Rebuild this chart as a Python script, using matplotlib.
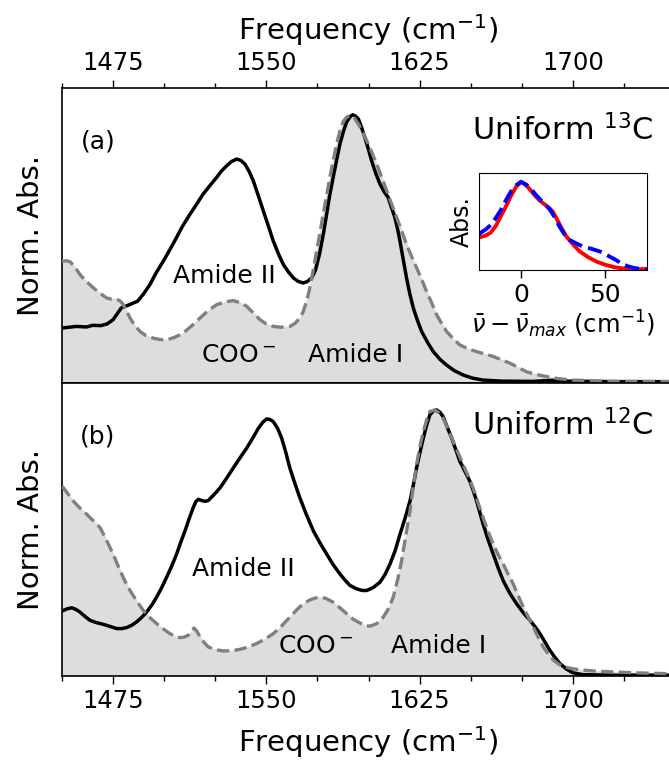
import matplotlib
matplotlib.use("Agg")
import matplotlib.pyplot as plt
from matplotlib.ticker import FixedLocator, MultipleLocator

# ---- panel (a): uniform 13C ----
a_solid_freq = [1450, 1457, 1462, 1465, 1469, 1472, 1475, 1477, 1479, 1483, 1487, 1490,
                1493, 1496, 1500, 1503, 1506, 1509, 1512.6, 1516, 1519, 1522.5, 1525.7,
                1528, 1530.6, 1533, 1535.5, 1537.5, 1539.5, 1541.5, 1543.6, 1546, 1548.5,
                1551, 1553.4, 1556, 1558.3, 1561, 1563.2, 1565.5, 1568, 1570, 1572.2, 1574,
                1576, 1578, 1579.5, 1581, 1582.7, 1584.5, 1586, 1587.8, 1589.3, 1591, 1592.2,
                1593.5, 1595, 1596.5, 1598.2, 1600, 1601.5, 1603.5, 1605.6, 1607.5, 1609.6,
                1611, 1612.9, 1614.2, 1615.4, 1617, 1618.6, 1620.2, 1621.9, 1624, 1626, 1629,
                1631.7, 1635, 1638.2, 1642, 1646.3, 1651, 1656, 1665, 1680, 1690, 1698, 1720,
                1750]
a_solid_abs = [0.205, 0.211, 0.209, 0.215, 0.214, 0.220, 0.236, 0.258, 0.280, 0.292, 0.305,
               0.333, 0.367, 0.410, 0.460, 0.500, 0.542, 0.585, 0.629, 0.668, 0.704, 0.737,
               0.767, 0.790, 0.810, 0.826, 0.835, 0.830, 0.816, 0.790, 0.754, 0.700, 0.642,
               0.585, 0.529, 0.480, 0.442, 0.412, 0.392, 0.379, 0.373, 0.378, 0.392, 0.420,
               0.480, 0.560, 0.629, 0.700, 0.767, 0.835, 0.891, 0.940, 0.973, 0.993, 1.000,
               0.996, 0.985, 0.955, 0.916, 0.870, 0.829, 0.783, 0.742, 0.715, 0.692, 0.660,
               0.617, 0.575, 0.529, 0.460, 0.392, 0.333, 0.280, 0.232, 0.192, 0.150, 0.117,
               0.088, 0.067, 0.046, 0.030, 0.018, 0.011, 0.007, 0.006, 0.010, 0.007, 0.005,
               0.005]

a_dash_freq = [1450, 1452, 1454, 1456.5, 1458.8, 1462, 1465.3, 1468.5, 1471.9, 1474, 1476,
               1478, 1479.5, 1481.5, 1483.3, 1485.5, 1488.2, 1491, 1494.7, 1498, 1501.2, 1505,
               1509.3, 1513, 1517.5, 1521.5, 1525.7, 1530, 1533.8, 1537, 1540.4, 1543.5,
               1546.9, 1550, 1553.4, 1557, 1561.5, 1564, 1566.4, 1568, 1569.7, 1571, 1572.2,
               1573.5, 1574.6, 1576.2, 1577.8, 1579.5, 1581.1, 1582.7, 1584.4, 1586, 1587.6,
               1589.3, 1590.9, 1593, 1595, 1597, 1599.1, 1601.5, 1604, 1606.5, 1608.9, 1611.3,
               1613.8, 1616.2, 1618.6, 1621, 1623.5, 1626, 1628.4, 1631, 1633.3, 1635.8,
               1638.2, 1641.5, 1644.7, 1648.8, 1652.9, 1657, 1661, 1665, 1669.2, 1673.3,
               1677.3, 1682, 1687.1, 1693, 1700, 1715, 1750]
a_dash_abs = [0.454, 0.456, 0.452, 0.430, 0.404, 0.378, 0.355, 0.335, 0.317, 0.313, 0.314,
              0.308, 0.298, 0.270, 0.242, 0.215, 0.192, 0.177, 0.167, 0.162, 0.161, 0.170,
              0.186, 0.210, 0.242, 0.270, 0.292, 0.303, 0.307, 0.300, 0.286, 0.262, 0.236,
              0.220, 0.211, 0.208, 0.211, 0.222, 0.242, 0.265, 0.305, 0.345, 0.392, 0.445,
              0.492, 0.560, 0.629, 0.700, 0.767, 0.830, 0.891, 0.940, 0.975, 0.991, 0.998,
              0.988, 0.966, 0.938, 0.904, 0.862, 0.816, 0.766, 0.717, 0.667, 0.617, 0.567,
              0.517, 0.473, 0.430, 0.386, 0.342, 0.297, 0.255, 0.222, 0.192, 0.165, 0.142,
              0.127, 0.117, 0.108, 0.099, 0.087, 0.074, 0.058, 0.042, 0.032, 0.024, 0.016,
              0.011, 0.007, 0.005]

# ---- panel (b): uniform 12C ----
b_solid_freq = [1450, 1452.5, 1454.7, 1456.8, 1458.8, 1461, 1463.7, 1467, 1470.2, 1473.5,
                1476.8, 1479.3, 1481.7, 1484, 1486.5, 1489, 1491.4, 1494, 1496.3, 1498.8,
                1501.2, 1503.7, 1506.1, 1508, 1510.2, 1512.2, 1514.2, 1515.5, 1516.7, 1518,
                1519.1, 1520.3, 1521.6, 1524.5, 1527.3, 1530.5, 1533.8, 1537, 1540.4, 1543.3,
                1546.1, 1548.2, 1550.1, 1551.8, 1553.4, 1555.5, 1557.5, 1559.5, 1561.5, 1564,
                1566.4, 1569.7, 1573, 1576.3, 1579.5, 1582.7, 1586, 1588.5, 1590.9, 1594.2,
                1597, 1599.1, 1602.3, 1605.6, 1608, 1610.5, 1613, 1615.4, 1618, 1620.3, 1622,
                1623.5, 1625.2, 1626.8, 1628.4, 1630, 1631.7, 1633.3, 1635, 1636.5, 1638.5,
                1640.7, 1642.7, 1644.7, 1647.2, 1649.6, 1651.2, 1652.9, 1654.5, 1656.1,
                1658.5, 1661, 1663.5, 1665.9, 1669.2, 1672.5, 1675.7, 1679, 1681.5, 1683.9,
                1686.3, 1688.7, 1691.2, 1693.6, 1696.9, 1700, 1705, 1720, 1750]
b_solid_abs = [0.244, 0.252, 0.256, 0.250, 0.240, 0.225, 0.209, 0.200, 0.194, 0.186, 0.178,
               0.178, 0.182, 0.190, 0.203, 0.220, 0.240, 0.267, 0.296, 0.332, 0.371, 0.413,
               0.458, 0.500, 0.545, 0.590, 0.632, 0.655, 0.663, 0.660, 0.657, 0.656, 0.659,
               0.682, 0.706, 0.742, 0.781, 0.818, 0.856, 0.893, 0.930, 0.952, 0.965, 0.963,
               0.955, 0.930, 0.893, 0.840, 0.781, 0.722, 0.669, 0.604, 0.545, 0.499, 0.458,
               0.418, 0.383, 0.360, 0.340, 0.327, 0.321, 0.321, 0.332, 0.352, 0.380, 0.420,
               0.470, 0.532, 0.595, 0.657, 0.720, 0.781, 0.840, 0.893, 0.940, 0.980, 0.995,
               0.999, 0.990, 0.974, 0.935, 0.893, 0.850, 0.806, 0.768, 0.731, 0.697, 0.657,
               0.613, 0.570, 0.512, 0.458, 0.405, 0.358, 0.310, 0.271, 0.238, 0.209, 0.185,
               0.159, 0.128, 0.097, 0.070, 0.047, 0.026, 0.012, 0.005, 0.003, 0.003]

b_dash_freq = [1450, 1452.8, 1455.5, 1458.8, 1462.1, 1465.3, 1468.6, 1471, 1473.5, 1476,
               1478.4, 1480.8, 1483.3, 1486.5, 1489.8, 1493, 1496.3, 1499.5, 1502.8, 1505.3,
               1507.7, 1509.8, 1511.8, 1513.3, 1514.6, 1516, 1517.5, 1519.5, 1521.6, 1525,
               1528.9, 1533, 1537.1, 1541.2, 1545.3, 1549.4, 1553.4, 1557.5, 1561.5, 1564.8,
               1568, 1571.7, 1575.4, 1579, 1582.7, 1586, 1589.3, 1592.5, 1595.8, 1598, 1600.7,
               1603.9, 1607.2, 1609.7, 1612.1, 1614.2, 1616.2, 1618.2, 1620.3, 1621.9, 1623.5,
               1625.2, 1626.8, 1628.4, 1630, 1632.5, 1634.5, 1636.5, 1639, 1641.4, 1643.8,
               1646.3, 1648.8, 1651.2, 1653.6, 1656.1, 1658.5, 1661, 1663.4, 1665.9, 1668.3,
               1670.8, 1673.2, 1675.7, 1678.2, 1680.6, 1683, 1685.5, 1688, 1690.4, 1693,
               1695.3, 1700, 1705, 1712, 1718, 1730, 1750]
b_dash_abs = [0.713, 0.685, 0.657, 0.630, 0.607, 0.583, 0.557, 0.522, 0.482, 0.440, 0.396,
              0.356, 0.321, 0.282, 0.246, 0.219, 0.197, 0.177, 0.159, 0.150, 0.144, 0.146,
              0.153, 0.166, 0.180, 0.168, 0.147, 0.126, 0.109, 0.099, 0.094, 0.095, 0.100,
              0.109, 0.122, 0.139, 0.159, 0.188, 0.221, 0.248, 0.271, 0.287, 0.296, 0.292,
              0.277, 0.256, 0.234, 0.213, 0.199, 0.190, 0.187, 0.196, 0.221, 0.252, 0.296,
              0.360, 0.433, 0.525, 0.619, 0.710, 0.794, 0.863, 0.918, 0.960, 0.993, 0.999,
              0.988, 0.968, 0.925, 0.881, 0.838, 0.794, 0.750, 0.706, 0.650, 0.594, 0.543,
              0.495, 0.456, 0.420, 0.383, 0.346, 0.302, 0.259, 0.221, 0.184, 0.146, 0.109,
              0.082, 0.060, 0.045, 0.035, 0.027, 0.022, 0.018, 0.016, 0.012, 0.008]

# ---- inset: amide I band relative to its maximum ----
inset_red_shift = [-25, -21, -18, -15, -12, -9, -6, -3, 0, 3, 5.5, 8, 11, 14, 17, 19, 21,
                   24, 27, 31, 35, 40, 45, 50, 56, 62, 70, 75]
inset_red_abs = [0.37, 0.39, 0.425, 0.50, 0.61, 0.72, 0.84, 0.94, 1.0, 0.96, 0.91, 0.85,
                 0.79, 0.745, 0.70, 0.66, 0.59, 0.48, 0.38, 0.29, 0.21, 0.145, 0.095, 0.06,
                 0.03, 0.015, 0.01, 0.01]
inset_blue_shift = [-25, -21, -18, -15, -12, -9, -6, -3, 0, 3, 5.5, 8.5, 11.4, 14, 17, 20,
                    23, 26, 29, 33, 37, 42, 47, 52, 56.5, 60, 64, 68, 75]
inset_blue_abs = [0.41, 0.46, 0.51, 0.59, 0.68, 0.79, 0.89, 0.96, 1.0, 0.97, 0.93, 0.86,
                  0.80, 0.75, 0.69, 0.60, 0.49, 0.40, 0.34, 0.30, 0.265, 0.24, 0.21, 0.16,
                  0.114, 0.07, 0.04, 0.02, 0.01]

FILL = "#dddddd"
DASH = "#808080"

fig = plt.figure(figsize=(6.69, 7.61), dpi=100)
ax1 = fig.add_axes([0.0927, 0.4967, 0.9163, 0.3877])
ax2 = fig.add_axes([0.0927, 0.1117, 0.9163, 0.3850])


def panel(ax, sf, sa, df, da):
    ax.fill_between(df, da, 0, color=FILL, zorder=1)
    ax.plot(sf, sa, color="black", lw=2.5, zorder=2)
    ax.plot(df, da, color=DASH, lw=2.4, ls="--", zorder=3)
    ax.set_xlim(1450, 1750)
    ax.set_ylim(0, 1.1)
    ax.set_yticks([])
    ax.set_ylabel("Norm. Abs.", fontsize=21, labelpad=12)
    ax.xaxis.set_major_locator(FixedLocator([1475, 1550, 1625, 1700]))
    ax.xaxis.set_minor_locator(MultipleLocator(25))
    ax.tick_params(axis="x", which="major", length=6, width=1, labelsize=17.5)
    ax.tick_params(axis="x", which="minor", length=3.5, width=1)
    for s in ax.spines.values():
        s.set_linewidth(1.2)


panel(ax1, a_solid_freq, a_solid_abs, a_dash_freq, a_dash_abs)
panel(ax2, b_solid_freq, b_solid_abs, b_dash_freq, b_dash_abs)

ax1.xaxis.tick_top()
ax1.xaxis.set_label_position("top")
ax1.set_xlabel("Frequency (cm$^{-1}$)", fontsize=21, labelpad=8)
ax2.set_xlabel("Frequency (cm$^{-1}$)", fontsize=21, labelpad=8)

# labels, panel (a)
ax1.text(1467.6, 0.90, "(a)", fontsize=18, ha="center", va="center")
ax1.text(1650.5, 0.905, "Uniform $^{13}$C", fontsize=22, ha="left", va="baseline")
ax1.text(1529.3, 0.373, "Amide II", fontsize=18, ha="center", va="baseline")
ax1.text(1536.6, 0.079, "COO$^-$", fontsize=18, ha="center", va="baseline")
ax1.text(1593.8, 0.079, "Amide I", fontsize=18, ha="center", va="baseline")

# labels, panel (b)
ax2.text(1467.6, 0.90, "(b)", fontsize=18, ha="center", va="center")
ax2.text(1650.5, 0.905, "Uniform $^{12}$C", fontsize=22, ha="left", va="baseline")
ax2.text(1539.0, 0.377, "Amide II", fontsize=18, ha="center", va="baseline")
ax2.text(1574.2, 0.085, "COO$^-$", fontsize=18, ha="center", va="baseline")
ax2.text(1634.5, 0.085, "Amide I", fontsize=18, ha="center", va="baseline")

# inset
axin = fig.add_axes([0.716, 0.6452, 0.2511, 0.1275])
axin.plot(inset_red_shift, inset_red_abs, color="red", lw=2.8)
axin.plot(inset_blue_shift, inset_blue_abs, color="blue", lw=2.8, ls="--")
axin.set_xlim(-25, 75)
axin.set_ylim(0, 1.1)
axin.set_yticks([])
axin.set_xticks([0, 50])
axin.tick_params(axis="x", length=6, width=1, labelsize=18)
axin.set_ylabel("Abs.", fontsize=17, labelpad=4)
axin.set_xlabel(r"$\bar{\nu} - \bar{\nu}_{max}$ (cm$^{-1}$)", fontsize=17.5, labelpad=1)

fig.savefig("out.png", dpi=100)
